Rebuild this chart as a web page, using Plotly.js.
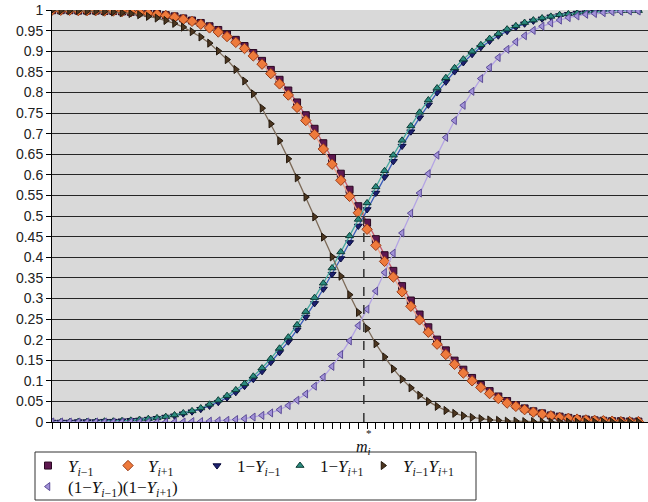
<!DOCTYPE html>
<html><head><meta charset="utf-8">
<script src="https://cdn.plot.ly/plotly-3.0.1.min.js"></script>
<style>html,body{margin:0;padding:0;background:#fff}#chart{width:648px;height:502px}</style>
</head><body><div id="chart"></div>
<script>
// ---- data (68 category positions) ----
const yPrev = [1.000,1.000,1.000,0.999,0.999,0.999,0.998,0.998,0.997,0.996,0.995,0.993,0.991,0.988,0.985,0.980,0.975,0.969,0.961,0.952,0.941,0.928,0.913,0.896,0.877,0.855,0.831,0.805,0.776,0.745,0.712,0.677,0.641,0.603,0.564,0.524,
0.484,0.444,0.405,0.367,0.330,0.295,0.261,0.230,0.200,0.174,0.149,0.127,0.107,0.090,0.075,0.062,0.051,0.041,0.033,0.026,0.021,0.016,0.013,0.010,0.007,0.006,0.004,0.003,0.002,0.002,0.001,0.001];
const yNext = [1.000,1.000,1.000,0.999,0.999,0.999,0.998,0.998,0.997,0.996,0.994,0.992,0.990,0.987,0.983,0.978,0.973,0.966,0.957,0.947,0.936,0.922,0.907,0.889,0.869,0.846,0.821,0.794,0.764,0.732,0.698,0.663,0.626,0.587,0.548,0.508,
0.468,0.429,0.390,0.352,0.316,0.281,0.248,0.218,0.189,0.164,0.140,0.119,0.100,0.084,0.069,0.057,0.046,0.038,0.030,0.024,0.019,0.015,0.011,0.009,0.007,0.005,0.004,0.003,0.002,0.001,0.001,0.001];
const oneMinusPrev = [0.000,0.000,0.000,0.001,0.001,0.001,0.002,0.002,0.003,0.004,0.005,0.007,0.009,0.012,0.015,0.020,0.025,0.031,0.039,0.048,0.059,0.072,0.087,0.104,0.123,0.145,0.169,0.195,0.224,0.255,0.288,0.323,0.359,0.397,0.436,0.476,
0.516,0.556,0.595,0.633,0.670,0.705,0.739,0.770,0.800,0.826,0.851,0.873,0.893,0.910,0.925,0.938,0.949,0.959,0.967,0.974,0.979,0.984,0.987,0.990,0.993,0.994,0.996,0.997,0.998,0.998,0.999,0.999];
const oneMinusNext = [0.000,0.000,0.000,0.001,0.001,0.001,0.002,0.002,0.003,0.004,0.006,0.008,0.010,0.013,0.017,0.022,0.027,0.034,0.043,0.053,0.064,0.078,0.093,0.111,0.131,0.154,0.179,0.206,0.236,0.268,0.302,0.337,0.374,0.413,0.452,0.492,
0.532,0.571,0.610,0.648,0.684,0.719,0.752,0.782,0.811,0.836,0.860,0.881,0.900,0.916,0.931,0.943,0.954,0.962,0.970,0.976,0.981,0.985,0.989,0.991,0.993,0.995,0.996,0.997,0.998,0.999,0.999,0.999];
const prodPrevNext = [1.000,0.999,0.999,0.999,0.998,0.998,0.997,0.996,0.994,0.992,0.989,0.985,0.981,0.975,0.968,0.959,0.948,0.935,0.920,0.901,0.880,0.856,0.828,0.797,0.762,0.724,0.683,0.639,0.593,0.546,0.498,0.449,0.401,0.354,0.309,0.266,
0.227,0.190,0.158,0.129,0.104,0.083,0.065,0.050,0.038,0.028,0.021,0.015,0.011,0.008,0.005,0.004,0.002,0.002,0.001,0.001,0.000,0.000,0.000,0.000,0.000,0.000,0.000,0.000,0.000,0.000,0.000,0.000];
const prodComplements = [0.000,0.000,0.000,0.000,0.000,0.000,0.000,0.000,0.000,0.000,0.000,0.000,0.000,0.000,0.000,0.000,0.001,0.001,0.002,0.003,0.004,0.006,0.008,0.012,0.016,0.022,0.030,0.040,0.053,0.068,0.087,0.109,0.135,0.164,0.197,0.234,
0.274,0.318,0.363,0.410,0.459,0.507,0.556,0.603,0.648,0.691,0.732,0.769,0.803,0.834,0.861,0.885,0.905,0.923,0.938,0.951,0.961,0.969,0.976,0.982,0.986,0.990,0.992,0.994,0.996,0.997,0.998,0.998];
const mStarPosition = 35.63;   // category position of m_i^*
const mStarLevel = 0.5;        // level where the curves cross
const seriesNames = [
  "<i>Y</i><sub><i>i</i>−1</sub>",
  "<i>Y</i><sub><i>i</i>+1</sub>",
  "1−<i>Y</i><sub><i>i</i>−1</sub>",
  "1−<i>Y</i><sub><i>i</i>+1</sub>",
  "<i>Y</i><sub><i>i</i>−1</sub><i>Y</i><sub><i>i</i>+1</sub>",
  "(1−<i>Y</i><sub><i>i</i>−1</sub>)(1−<i>Y</i><sub><i>i</i>+1</sub>)"
];
const yTickVals = [0,0.05,0.1,0.15,0.2,0.25,0.3,0.35,0.4,0.45,0.5,0.55,0.6,0.65,0.7,0.75,0.8,0.85,0.9,0.95,1];

// ---- build ----
const xs = yPrev.map((_, i) => i);
const seriesValues = [yPrev, yNext, oneMinusPrev, oneMinusNext, prodPrevNext, prodComplements];
const styles = [
  {sym:'square', fill:'#5e1850', edge:'#2a0822', line:'#c85a6a', size:7},
  {sym:'diamond', fill:'#ee7a3c', edge:'#9a3c18', line:'#f0a08a', size:8},
  {sym:'triangle-down', fill:'#1c2070', edge:'#0a0c3c', line:'#3a5cb8', size:7},
  {sym:'triangle-up', fill:'#2c8c80', edge:'#0c3c34', line:'#48a8a0', size:7},
  {sym:'triangle-right', fill:'#4c3620', edge:'#24180c', line:'#7c6a58', size:7},
  {sym:'triangle-left', fill:'#a292d8', edge:'#5c4c98', line:'#b4a4e4', size:7}
];
const legendKeys = ['legend', 'legend2', 'legend3', 'legend4', 'legend5', 'legend6'];
// legend symbol centres in pixels (x, y)
const legendSpots = [[45, 466], [125, 466], [214, 466], [297, 466], [380, 466], [45, 487]];

const traces = [];
seriesValues.forEach((vals, s) => {
  const st = styles[s];
  traces.push({x: xs, y: vals, type:'scatter', mode:'lines', showlegend:false,
    line:{color: st.line, width:1.3}, hoverinfo:'skip'});
  traces.push({x: xs, y: vals, type:'scatter', mode:'markers', name: seriesNames[s],
    legend: legendKeys[s],
    marker:{symbol: st.sym, size: st.size, color: st.fill, line:{color: st.edge, width:1}}});
});

const W = 648, H = 502, mL = 52, mR = 0, mT = 10, mB = 80;
const pw = W - mL - mR, ph = H - mT - mB;
const px = v => (v - mL) / pw;          // pixel -> paper x
const py = v => (H - mB - v) / ph;      // pixel -> paper y
const legendFont = {family: 'Liberation Serif, Times New Roman, serif', size: 17, color: '#111'};

const layout = {
  width: W, height: H,
  margin: {l: mL, r: mR, t: mT, b: mB, pad: 0, autoexpand: false},
  paper_bgcolor: '#ffffff', plot_bgcolor: '#d9d9d9',
  font: {family: 'Liberation Sans, Arial, sans-serif', size: 14, color: '#222'},
  xaxis: {range: [0, 68.1], tickvals: xs, showticklabels: false, ticks: 'outside',
    ticklen: 6, tickcolor: '#000', tickwidth: 1, showgrid: false, zeroline: false,
    showline: true, linecolor: '#000', linewidth: 1},
  yaxis: {range: [0, 1.0005], tickvals: yTickVals, ticks: 'outside', ticklen: 5,
    tickcolor: '#000', showgrid: true, gridcolor: '#262626', gridwidth: 1,
    zeroline: false, showline: true, linecolor: '#000', linewidth: 1,
    tickfont: {size: 14, color: '#222'}},
  showlegend: true,
  shapes: [
    {type: 'line', xref: 'x', yref: 'y', x0: mStarPosition, x1: mStarPosition, y0: 0, y1: mStarLevel,
      line: {color: '#333', width: 1.5, dash: 'dash'}},
    {type: 'rect', xref: 'paper', yref: 'paper', x0: px(35), x1: px(476), y0: py(452), y1: py(500),
      line: {color: '#333', width: 1}, fillcolor: 'rgba(0,0,0,0)'}
  ],
  annotations: [
    {xref: 'x', yref: 'paper', x: mStarPosition, y: py(447), text: '<i>m</i><sub><i>i</i></sub>',
      showarrow: false, xanchor: 'center', yanchor: 'middle', font: {...legendFont, size: 16}},
    {xref: 'x', yref: 'paper', x: mStarPosition, y: py(433), xshift: 5, text: '*',
      showarrow: false, xanchor: 'center', yanchor: 'middle', font: {...legendFont, size: 11}}
  ]
};
legendKeys.forEach((key, i) => {
  layout[key] = {orientation: 'h', x: px(legendSpots[i][0] - 17), y: py(legendSpots[i][1]),
    xanchor: 'left', yanchor: 'middle', bgcolor: 'rgba(0,0,0,0)', borderwidth: 0,
    itemwidth: 30, font: legendFont};
});
Plotly.newPlot('chart', traces, layout, {displayModeBar: false, staticPlot: true});
</script>
</body></html>
